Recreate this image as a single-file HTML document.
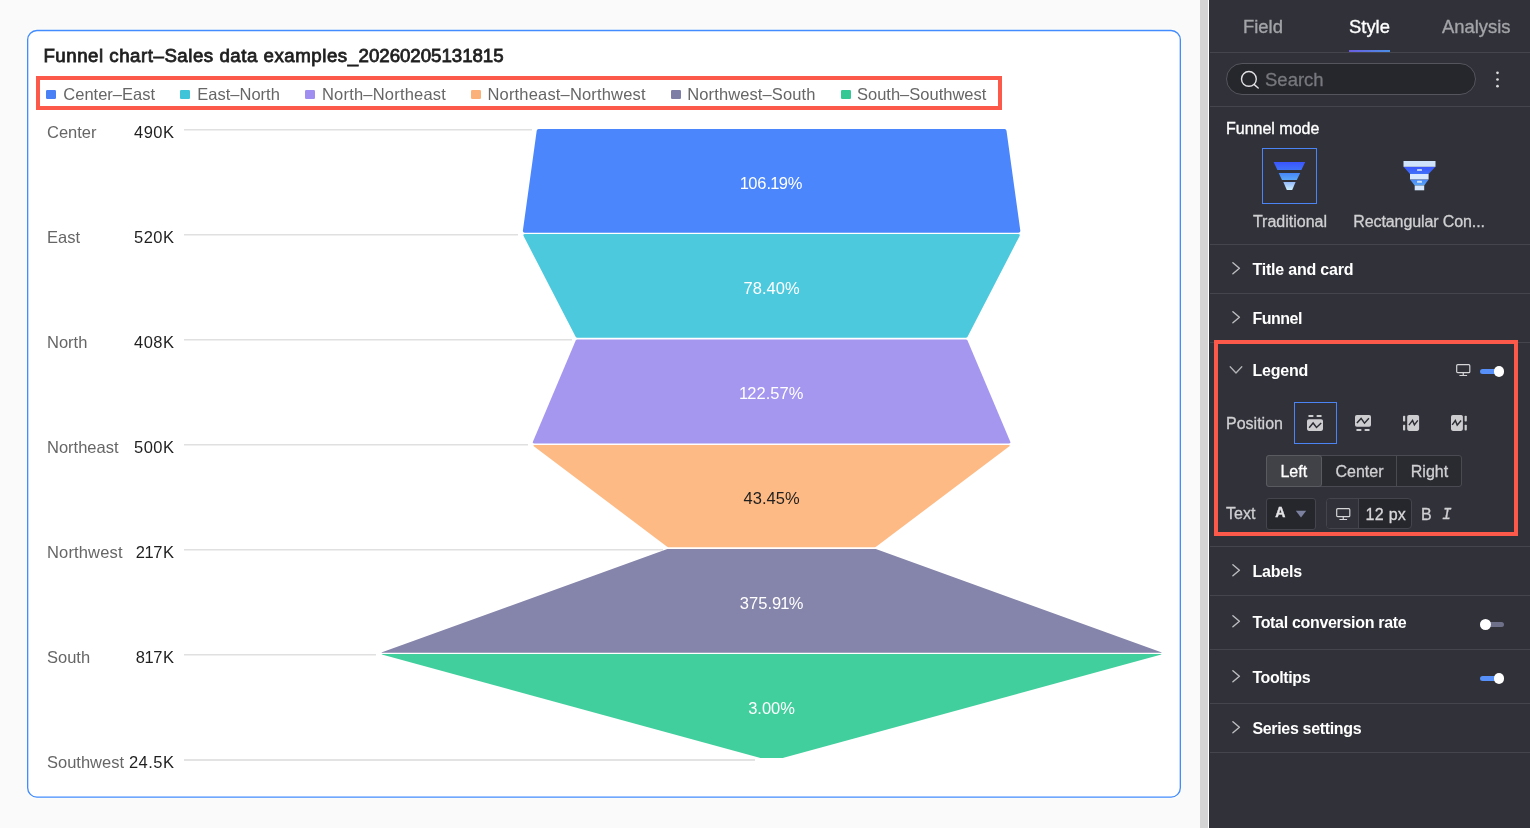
<!DOCTYPE html>
<html lang="en">
<head>
<meta charset="utf-8">
<title>Funnel chart</title>
<style>
html,body{margin:0;padding:0;}
body{width:1530px;height:828px;position:relative;overflow:hidden;background:#fafafa;font-family:"Liberation Sans",sans-serif;}
.abs{position:absolute;}
.t{position:absolute;white-space:nowrap;line-height:20px;}
#title{left:43.4px;top:46px;font-size:18.7px;font-weight:normal;-webkit-text-stroke:0.8px #1f1f1f;color:#1f1f1f;letter-spacing:0.37px;}
#lgbox{left:36px;top:76px;width:958px;height:26px;border:4px solid #fd594b;}
.lg{font-size:16.5px;color:#666;top:84px;}
.sq{position:absolute;top:89.5px;width:9.6px;height:9.6px;border-radius:1.2px;margin-left:0.2px}
.rl{font-size:16.5px;color:#666;left:47px;}
.rv{font-size:16.5px;color:#1f1f1f;right:1355.5px;text-align:right;letter-spacing:0.5px;}
.gl{position:absolute;left:184px;height:1px;background:#e0e0e0;box-shadow:0 1px 0 #efefef;}
.o{margin:0 -0.85px;}
.pc{font-size:16.5px;color:#fff;width:200px;left:671.6px;text-align:center;}
#strip{left:1200px;top:0;width:8px;height:828px;background:#d4d4d4;border-right:1px solid #fff;}
#panel{left:1209px;top:0;width:321px;height:828px;background:#303139;}
.hl{position:absolute;left:1210px;width:320px;height:1px;background:#45464d;}
.pt{color:#fff;font-size:16px;font-weight:bold;letter-spacing:-0.2px;}
.pn{color:#d0d0d2;font-size:16px;-webkit-text-stroke-width:0.3px;}
#tab1,#tab2,#tab3,#fm{-webkit-text-stroke-width:0.35px;}
#searcht{-webkit-text-stroke-width:0.3px;}
#bl{-webkit-text-stroke-width:0.3px;}
</style>
</head>
<body>
<svg id="card" class="abs" style="left:0;top:0" width="1200" height="828" viewBox="0 0 1200 828"><rect x="27.65" y="30.5" width="1152.7" height="766.6" rx="9.3" fill="#fff" stroke="#fdfdfb" stroke-width="3.3"/><rect x="27.65" y="30.5" width="1152.7" height="766.6" rx="9.3" fill="#fff" stroke="#428cff" stroke-width="1.35"/></svg>
<div id="title" class="t"><span id="ta" style="letter-spacing:0.517px">Funnel chart–Sales data examples_</span><span id="tb" style="letter-spacing:-0.04px">20260205131815</span></div>

<!-- legend -->
<div id="lgbox" class="abs"></div>
<div class="sq" style="left:46px;background:#4a80f5"></div><div id="lg1" class="t lg" style="left:63.3px">Center–East</div>
<div class="sq" style="left:180px;background:#3fc4d9"></div><div id="lg2" class="t lg" style="left:197.3px">East–North</div>
<div class="sq" style="left:305px;background:#a08ff0"></div><div id="lg3" class="t lg" style="left:322px;letter-spacing:0.2px">North–Northeast</div>
<div class="sq" style="left:471px;background:#fbb27a"></div><div id="lg4" class="t lg" style="left:487.5px;letter-spacing:0.17px">Northeast–Northwest</div>
<div class="sq" style="left:671px;background:#7e7da6"></div><div id="lg5" class="t lg" style="left:687.3px;letter-spacing:0.11px">Northwest–South</div>
<div class="sq" style="left:841px;background:#35c794"></div><div id="lg6" class="t lg" style="left:857px">South–Southwest</div>

<!-- rows -->
<div id="rl1" class="t rl" style="top:122px">Center</div><div id="rv1" class="t rv" style="top:122px">490K</div>
<div id="rl2" class="t rl" style="top:227px">East</div><div id="rv2" class="t rv" style="top:227px">520K</div>
<div id="rl3" class="t rl" style="top:332px">North</div><div id="rv3" class="t rv" style="top:332px">408K</div>
<div id="rl4" class="t rl" style="top:437px">Northeast</div><div id="rv4" class="t rv" style="top:437px">500K</div>
<div id="rl5" class="t rl" style="top:542px;letter-spacing:0.15px">Northwest</div><div id="rv5" class="t rv" style="top:542px">2<span class="o">1</span>7K</div>
<div id="rl6" class="t rl" style="top:647px">South</div><div id="rv6" class="t rv" style="top:647px">8<span class="o">1</span>7K</div>
<div id="rl7" class="t rl" style="top:752px">Southwest</div><div id="rv7" class="t rv" style="top:752px">24.5K</div>

<div class="gl" style="top:129px;width:348.2px"></div>
<div class="gl" style="top:234px;width:333.9px"></div>
<div class="gl" style="top:339px;width:387.5px"></div>
<div class="gl" style="top:444px;width:343.5px"></div>
<div class="gl" style="top:549px;width:479.0px"></div>
<div class="gl" style="top:654px;width:191.6px"></div>
<div class="gl" style="top:759px;width:571.2px;background:#e3e3e3;box-shadow:0 1px 0 #e3e3e3"></div>

<!-- funnel -->
<svg class="abs" style="left:0;top:0" width="1200" height="828" viewBox="0 0 1200 828">
<g>
<path d="M536.70 130.63 Q536.94 128.90 538.68 128.90 L1004.52 128.90 Q1006.26 128.90 1006.50 130.63 L1020.31 230.60 Q1020.63 232.87 1018.33 232.87 L524.87 232.87 Q522.57 232.87 522.89 230.60 Z" fill="#4b86fc"/>
<path d="M523.72 236.25 Q522.57 234.03 525.07 234.03 L1018.13 234.03 Q1020.63 234.03 1019.48 236.25 L967.55 336.77 Q966.99 337.85 965.77 337.85 L577.43 337.85 Q576.21 337.85 575.65 336.77 Z" fill="#4dc9de"/>
<path d="M575.69 340.62 Q576.21 339.40 577.53 339.40 L965.67 339.40 Q966.99 339.40 967.51 340.62 L1010.08 441.15 Q1011.05 443.45 1008.55 443.45 L534.65 443.45 Q532.15 443.45 533.12 441.15 Z" fill="#a596f0"/>
<path d="M534.15 446.54 Q532.15 445.04 534.65 445.04 L1008.55 445.04 Q1011.05 445.04 1009.05 446.54 L876.06 546.73 Q875.52 547.13 874.85 547.13 L668.35 547.13 Q667.68 547.13 667.14 546.73 Z" fill="#feba84"/>
<path d="M667.35 549.08 Q667.68 548.96 668.03 548.96 L875.17 548.96 Q875.52 548.96 875.85 549.08 L1160.51 651.90 Q1162.86 652.75 1160.36 652.75 L382.84 652.75 Q380.34 652.75 382.69 651.90 Z" fill="#8584aa"/>
<path d="M382.75 654.72 Q380.34 654.06 382.84 654.06 L1160.36 654.06 Q1162.86 654.06 1160.45 654.72 L783.59 757.83 Q783.33 757.90 783.06 757.90 L760.14 757.90 Q759.87 757.90 759.61 757.83 Z" fill="#42cf9e"/>
</g>
</svg>
<div id="pc1" class="t pc" style="top:172.5px"><span class="o">1</span>06.<span class="o">1</span>9%</div>
<div id="pc2" class="t pc" style="top:277.6px">78.40%</div>
<div id="pc3" class="t pc" style="top:382.7px"><span class="o">1</span>22.57%</div>
<div id="pc4" class="t pc" style="top:487.6px;color:#1f1f1f">43.45%</div>
<div id="pc5" class="t pc" style="top:592.6px">375.9<span class="o">1</span>%</div>
<div id="pc6" class="t pc" style="top:697.9px">3.00%</div>

<!-- right panel -->
<div id="strip" class="abs"></div>
<div id="panel" class="abs"></div>


<!-- tabs -->
<div id="tab1" class="t" style="top:17px;left:1243px;font-size:18.4px;color:#a3a4a8">Field</div>
<div id="tab2" class="t" style="top:17px;left:1349px;font-size:18.4px;color:#fff">Style</div>
<div id="tab3" class="t" style="top:17px;left:1442px;font-size:18.4px;color:#a3a4a8">Analysis</div>
<div class="abs" style="left:1349px;top:50px;width:41px;height:2px;background:linear-gradient(90deg,#6a5de0,#4a8fe6)"></div>
<div class="hl" style="top:52px"></div>
<!-- search -->
<div id="search" class="abs" style="left:1226px;top:63px;width:248px;height:30px;border:1px solid #55565d;border-radius:16px;background:#26262d"></div>
<svg class="abs" style="left:1239px;top:69px" width="22" height="22" viewBox="0 0 22 22"><circle cx="9.9" cy="9.9" r="7.4" fill="none" stroke="#e2e2e4" stroke-width="1.4"/><path d="M15.3 15.6 L19.2 19" stroke="#e2e2e4" stroke-width="1.4" stroke-linecap="round"/></svg>
<div id="searcht" class="t" style="left:1265px;top:70px;font-size:18.5px;color:#77787e">Search</div>
<svg class="abs" style="left:1490px;top:66px" width="16" height="28" viewBox="0 0 16 28"><circle cx="7.5" cy="6.8" r="1.35" fill="#dcdcde"/><circle cx="7.5" cy="13.5" r="1.35" fill="#dcdcde"/><circle cx="7.5" cy="20.2" r="1.35" fill="#dcdcde"/></svg>
<div class="hl" style="top:106px"></div>
<!-- funnel mode -->
<div id="fm" class="t" style="left:1226px;top:119px;font-size:16px;color:#fff">Funnel mode</div>
<div id="fmbox" class="abs" style="left:1262px;top:148px;width:53px;height:54px;border:1px solid #4a84f5"></div>
<svg class="abs" style="left:1262px;top:148px" width="56" height="56" viewBox="0 0 56 56">
<defs>
<linearGradient id="g1" x1="0" y1="0" x2="0" y2="1"><stop offset="0" stop-color="#3b55fd"/><stop offset="1" stop-color="#3f72f8"/></linearGradient>
<linearGradient id="g2" x1="0" y1="0" x2="0" y2="1"><stop offset="0" stop-color="#4686f8"/><stop offset="1" stop-color="#5aa6f9"/></linearGradient>
<linearGradient id="g3" x1="0" y1="0" x2="0" y2="1"><stop offset="0" stop-color="#94b9fa"/><stop offset="1" stop-color="#cdf0ff"/></linearGradient>
</defs>
<polygon points="11.6,14 43.2,14 39.4,22 15.4,22" fill="url(#g1)"/>
<polygon points="16.7,25 38.2,25 34.8,32 20,32" fill="url(#g2)"/>
<polygon points="21.3,34 33.6,34 30.2,42 24.8,42" fill="url(#g3)"/>
</svg>
<svg class="abs" style="left:1400px;top:158px" width="40" height="36" viewBox="0 0 40 36">
<polygon points="3.6,8.8 35.4,8.8 28.6,16 10,16" fill="url(#g1)"/>
<polygon points="10,21.4 28.6,21.4 24.2,27.5 14.7,27.5" fill="url(#g2)"/>
<rect x="3.5" y="3" width="32" height="5.8" fill="#cfe3fd"/>
<rect x="10" y="16" width="18.6" height="5.4" fill="#d6e8fe"/>
<rect x="14.7" y="27.5" width="9.5" height="4.8" fill="#d6e8fe"/>
<rect x="17" y="11" width="5" height="2" rx="0.5" fill="#b9cdfb"/>
<rect x="17" y="22.8" width="5" height="2" rx="0.5" fill="#cfe3fd"/>
</svg>
<div id="trad" class="t pn" style="left:1240px;width:100px;text-align:center;top:212px">Traditional</div>
<div id="rect" class="t pn" style="left:1353.3px;top:212px;letter-spacing:-0.1px">Rectangular Con...</div>
<div class="hl" style="top:244px"></div>

<svg class="abs" style="left:1230px;top:260.5px" width="12" height="16" viewBox="0 0 12 16"><path d="M2.9 1.7 L9.4 7.2 L2.9 12.7" fill="none" stroke="#bdbdc1" stroke-width="1.4" stroke-linecap="round" stroke-linejoin="round"/></svg>
<div id="h1" class="t pt" style="left:1252.4px;top:259.5px">Title and card</div>
<div class="hl" style="top:293px"></div>
<svg class="abs" style="left:1230px;top:309.5px" width="12" height="16" viewBox="0 0 12 16"><path d="M2.9 1.7 L9.4 7.2 L2.9 12.7" fill="none" stroke="#bdbdc1" stroke-width="1.4" stroke-linecap="round" stroke-linejoin="round"/></svg>
<div id="h2" class="t pt" style="letter-spacing:-0.5px;left:1252.4px;top:308.5px">Funnel</div>
<div class="hl" style="top:342px"></div>
<div id="redbox" class="abs" style="left:1214px;top:340px;width:296px;height:188px;border:4px solid #fd594b"></div>
<svg class="abs" style="left:1228px;top:363.5px" width="16" height="12" viewBox="0 0 16 12"><path d="M2.2 2.8 L8 9 L13.8 2.8" fill="none" stroke="#b4b4b8" stroke-width="1.3" stroke-linecap="round" stroke-linejoin="round"/></svg>
<div id="h3" class="t pt" style="left:1252.4px;top:360.5px">Legend</div>
<svg class="abs" style="left:1456px;top:364px" width="14.5" height="12" viewBox="0 0 14.5 12"><rect x="0.7" y="0.7" width="13.1" height="8" rx="1" fill="none" stroke="#d5d5d7" stroke-width="1.2"/><path d="M7.25 8.7 V11.4 M3.4 11.6 H11.1" stroke="#d5d5d7" stroke-width="1.2" fill="none"/></svg>
<div class="abs" style="left:1480px;top:369.0px;width:23px;height:5px;border-radius:3px;background:#5690f8"></div><div class="abs" style="left:1493.5px;top:366.2px;width:10.6px;height:10.6px;border-radius:6px;background:#fff"></div>
<div id="pos" class="t pn" style="left:1226px;top:414px">Position</div>
<div class="abs" style="left:1294px;top:402px;width:41px;height:40px;border:1px solid #4a84f5"></div>
<svg class="abs" style="left:1307px;top:414.9px" width="17" height="17" viewBox="0 0 17 17"><rect x="1.3" y="0" width="5.2" height="2.1" rx="0.8" fill="#cdcdcf"/><rect x="9.5" y="0" width="5.2" height="2.1" rx="0.8" fill="#cdcdcf"/><rect x="0" y="4.3" width="16" height="11.6" rx="1.8" fill="#cdcdcf"/><path d="M2.15 12.7 L6.1 8 L9.5 12.5 L14.2 8" fill="none" stroke="#2b2c33" stroke-width="1.45"/></svg>
<svg class="abs" style="left:1355.1px;top:414.9px" width="17" height="17" viewBox="0 0 17 17"><rect x="1.3" y="13.9" width="5.2" height="2.1" rx="0.8" fill="#cdcdcf"/><rect x="9.5" y="13.9" width="5.2" height="2.1" rx="0.8" fill="#cdcdcf"/><rect x="0" y="0" width="16" height="11.8" rx="1.8" fill="#cdcdcf"/><path d="M1.9 8 L6.1 3.4 L9.5 8.2 L13.9 3.15" fill="none" stroke="#2b2c33" stroke-width="1.45"/></svg>
<svg class="abs" style="left:1402.9px;top:414.9px" width="17" height="17" viewBox="0 0 17 17"><rect x="0" y="0.7" width="2.2" height="5.8" rx="0.8" fill="#cdcdcf"/><rect x="0" y="9.7" width="2.2" height="5.8" rx="0.8" fill="#cdcdcf"/><rect x="4.2" y="0" width="11.9" height="15.9" rx="1.8" fill="#cdcdcf"/><path d="M5.9 10.1 L9.55 5.4 L11.4 9.85 L14.8 5.4" fill="none" stroke="#2b2c33" stroke-width="1.45"/></svg>
<svg class="abs" style="left:1451px;top:414.9px" width="17" height="17" viewBox="0 0 17 17"><rect x="13.6" y="0.7" width="2.2" height="5.8" rx="0.8" fill="#cdcdcf"/><rect x="13.6" y="9.7" width="2.2" height="5.8" rx="0.8" fill="#cdcdcf"/><rect x="0" y="0" width="11.9" height="15.9" rx="1.8" fill="#cdcdcf"/><path d="M1.2 9.95 L4.35 5.5 L6.2 10.1 L10.1 5.5" fill="none" stroke="#2b2c33" stroke-width="1.45"/></svg>
<div class="abs" style="left:1266px;top:455px;width:194px;height:30px;border:1px solid #4a4b52;border-radius:3px;background:#2a2b31"></div>
<div class="abs" style="left:1266px;top:455px;width:54px;height:30px;background:#414248;border:1px solid #5a5b61;border-radius:3px"></div>

<div class="abs" style="left:1396px;top:456px;width:1px;height:30px;background:#4a4b52"></div>
<div id="bl" class="t" style="left:1266.3px;width:55px;text-align:center;top:462px;font-size:16px;color:#fff">Left</div>
<div id="bc" class="t pn" style="left:1323px;width:73px;text-align:center;top:462px">Center</div>
<div id="br" class="t pn" style="left:1397px;width:65px;text-align:center;top:462px">Right</div>
<div id="txt" class="t pn" style="left:1226px;top:504px">Text</div>
<div class="abs" style="left:1266px;top:498px;width:48px;height:30px;border:1px solid #45464d;border-radius:3px;background:#26272d"></div>
<div id="fa" class="t" style="left:1275.2px;top:501.8px;font-size:14px;font-weight:bold;-webkit-text-stroke-width:0.4px;color:#e4e4e6">A</div>
<svg class="abs" style="left:1295px;top:510px" width="12" height="8" viewBox="0 0 12 8"><polygon points="0.8,0.8 11.2,0.8 6,7.4" fill="#7c819f"/></svg>
<div class="abs" style="left:1326px;top:498px;width:84px;height:29px;border:1px solid #45464d;border-radius:4px;background:#26272d"></div>
<div class="abs" style="left:1327px;top:499px;width:31px;height:29px;background:#303139;border-right:1px solid #45464d;border-radius:3px 0 0 3px"></div>
<svg class="abs" style="left:1336px;top:507.9px" width="14.5" height="12" viewBox="0 0 14.5 12"><rect x="0.7" y="0.7" width="13.1" height="8" rx="1" fill="none" stroke="#d5d5d7" stroke-width="1.2"/><path d="M7.25 8.7 V11.4 M3.4 11.6 H11.1" stroke="#d5d5d7" stroke-width="1.2" fill="none"/></svg>
<div id="px" class="t pn" style="left:1365.5px;top:505px;letter-spacing:0.3px;color:#d8d8da">12 px</div>
<div id="bb" class="t pn" style="left:1421px;top:505px">B</div>
<div id="ii" class="t pn" style="left:1442px;top:505px;font-family:'Liberation Mono',monospace;font-style:italic;font-size:16px">I</div>
<div class="hl" style="top:546px"></div>
<svg class="abs" style="left:1230px;top:562.5px" width="12" height="16" viewBox="0 0 12 16"><path d="M2.9 1.7 L9.4 7.2 L2.9 12.7" fill="none" stroke="#bdbdc1" stroke-width="1.4" stroke-linecap="round" stroke-linejoin="round"/></svg>
<div id="h4" class="t pt" style="left:1252.4px;top:561.5px">Labels</div>
<div class="hl" style="top:595px"></div>
<svg class="abs" style="left:1230px;top:613.5px" width="12" height="16" viewBox="0 0 12 16"><path d="M2.9 1.7 L9.4 7.2 L2.9 12.7" fill="none" stroke="#bdbdc1" stroke-width="1.4" stroke-linecap="round" stroke-linejoin="round"/></svg>
<div id="h5" class="t pt" style="letter-spacing:-0.32px;left:1252.4px;top:612.5px">Total conversion rate</div>
<div class="abs" style="left:1480px;top:622.0px;width:24px;height:5px;border-radius:3px;background:#6d7088"></div><div class="abs" style="left:1480px;top:619.2px;width:10.6px;height:10.6px;border-radius:6px;background:#fff"></div>
<div class="hl" style="top:649px"></div>
<svg class="abs" style="left:1230px;top:668.5px" width="12" height="16" viewBox="0 0 12 16"><path d="M2.9 1.7 L9.4 7.2 L2.9 12.7" fill="none" stroke="#bdbdc1" stroke-width="1.4" stroke-linecap="round" stroke-linejoin="round"/></svg>
<div id="h6" class="t pt" style="letter-spacing:-0.4px;left:1252.4px;top:667.5px">Tooltips</div>
<div class="abs" style="left:1480px;top:676.0px;width:23px;height:5px;border-radius:3px;background:#5690f8"></div><div class="abs" style="left:1493.5px;top:673.2px;width:10.6px;height:10.6px;border-radius:6px;background:#fff"></div>
<div class="hl" style="top:703px"></div>
<svg class="abs" style="left:1230px;top:719.5px" width="12" height="16" viewBox="0 0 12 16"><path d="M2.9 1.7 L9.4 7.2 L2.9 12.7" fill="none" stroke="#bdbdc1" stroke-width="1.4" stroke-linecap="round" stroke-linejoin="round"/></svg>
<div id="h7" class="t pt" style="letter-spacing:-0.33px;left:1252.4px;top:718.5px">Series settings</div>
<div class="hl" style="top:752px"></div>
</body>
</html>
